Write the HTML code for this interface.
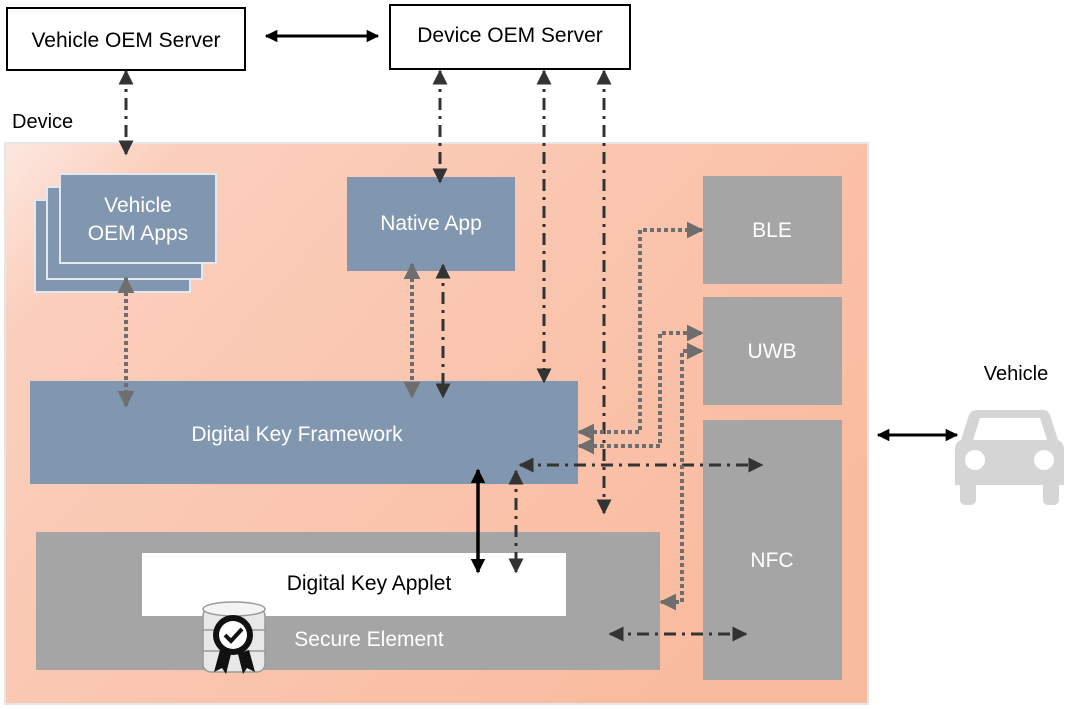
<!DOCTYPE html>
<html><head><meta charset="utf-8"><style>
body{margin:0;background:#fff;}
svg{display:block;font-family:"Liberation Sans",Arial,sans-serif;}
</style></head><body>
<svg width="1080" height="709" viewBox="0 0 1080 709" xmlns="http://www.w3.org/2000/svg">
<defs>
<linearGradient id="bg" x1="0" y1="0" x2="1" y2="0.6">
<stop offset="0" stop-color="#fce8e0"/>
<stop offset="0.15" stop-color="#fbcfbd"/>
<stop offset="1" stop-color="#f9bb9f"/>
</linearGradient>
<marker id="ad" viewBox="0 0 10 10" refX="9" refY="5" markerWidth="5" markerHeight="5" orient="auto-start-reverse" markerUnits="strokeWidth"><path d="M0,0L10,5L0,10z" fill="#333"/></marker>
<marker id="ag" viewBox="0 0 10 10" refX="9" refY="5" markerWidth="4.2" markerHeight="4.2" orient="auto-start-reverse" markerUnits="strokeWidth"><path d="M0,0L10,5L0,10z" fill="#6e6e6e"/></marker>
<marker id="ab" viewBox="0 0 10 10" refX="9" refY="5" markerWidth="4.2" markerHeight="4.2" orient="auto-start-reverse" markerUnits="strokeWidth"><path d="M0,0L10,5L0,10z" fill="#000"/></marker>
</defs>

<rect x="7" y="8" width="238" height="62" fill="#fff" stroke="#000" stroke-width="2"/>
<text x="126" y="47" font-size="21" text-anchor="middle" fill="#000">Vehicle OEM Server</text>
<rect x="390" y="5" width="240" height="64" fill="#fff" stroke="#000" stroke-width="2"/>
<text x="510" y="42" font-size="21" text-anchor="middle" fill="#000">Device OEM Server</text>
<line x1="266" y1="36" x2="378" y2="36" stroke="#000" stroke-width="3" marker-start="url(#ab)" marker-end="url(#ab)"/>
<text x="12" y="128" font-size="20" fill="#000">Device</text>

<rect x="5" y="143" width="863" height="561" fill="url(#bg)" stroke="#e6e6e6" stroke-width="2"/>

<rect x="35" y="200" width="155" height="92" fill="#8197b0" stroke="#e3e8ee" stroke-width="2"/>
<rect x="47" y="187" width="155" height="92" fill="#8197b0" stroke="#e3e8ee" stroke-width="2"/>
<rect x="60" y="174" width="156" height="89" fill="#8197b0" stroke="#e3e8ee" stroke-width="2"/>
<text x="138" y="212" font-size="21" fill="#fff" text-anchor="middle">Vehicle</text>
<text x="138" y="240" font-size="21" fill="#fff" text-anchor="middle">OEM Apps</text>

<rect x="347" y="177" width="168" height="94" fill="#8197b0"/>
<text x="431" y="230" font-size="21" fill="#fff" text-anchor="middle">Native App</text>

<rect x="703" y="176" width="139" height="108" fill="#a5a5a5"/>
<text x="772" y="237" font-size="21" fill="#fff" text-anchor="middle">BLE</text>
<rect x="703" y="297" width="139" height="108" fill="#a5a5a5"/>
<text x="772" y="358" font-size="21" fill="#fff" text-anchor="middle">UWB</text>
<rect x="703" y="420" width="139" height="260" fill="#a5a5a5"/>
<text x="772" y="567" font-size="21" fill="#fff" text-anchor="middle">NFC</text>

<rect x="30" y="381" width="548" height="103" fill="#8197b0"/>
<text x="297" y="441" font-size="21" fill="#fff" text-anchor="middle">Digital Key Framework</text>

<rect x="36" y="532" width="624" height="138" fill="#a5a5a5"/>
<rect x="142" y="553" width="424" height="63" fill="#fff"/>
<text x="369" y="590" font-size="21" fill="#000" text-anchor="middle">Digital Key Applet</text>
<text x="369" y="646" font-size="21" fill="#fff" text-anchor="middle">Secure Element</text>

<g>
<rect x="203" y="608" width="62" height="64" rx="8" fill="#e8e8e8" stroke="#999" stroke-width="1.5"/>
<ellipse cx="234" cy="609" rx="31" ry="7" fill="#f4f4f4" stroke="#999" stroke-width="1.5"/>
<line x1="203" y1="630" x2="265" y2="630" stroke="#999" stroke-width="1.5"/>
<line x1="203" y1="651" x2="265" y2="651" stroke="#999" stroke-width="1.5"/>
<path d="M220,650 L214,672 L222,668 L226,674 L231,654 Z M238,654 L243,674 L247,668 L255,672 L249,650 Z" fill="#111"/>
<circle cx="233" cy="635" r="20" fill="#111"/>
<circle cx="233" cy="635" r="14" fill="#fff"/>
<path d="M225,635 L231,641 L242,629" fill="none" stroke="#111" stroke-width="4"/>
</g>

<g fill="none" stroke="#333" stroke-width="3" stroke-dasharray="12 6 3 6">
<line x1="126" y1="71" x2="126" y2="154" marker-start="url(#ad)" marker-end="url(#ad)"/>
<line x1="440" y1="71" x2="440" y2="182" marker-start="url(#ad)" marker-end="url(#ad)"/>
<line x1="544" y1="71" x2="544" y2="382" marker-start="url(#ad)" marker-end="url(#ad)"/>
<line x1="604" y1="71" x2="604" y2="513" marker-start="url(#ad)" marker-end="url(#ad)"/>
<line x1="443" y1="265" x2="443" y2="397" marker-start="url(#ad)" marker-end="url(#ad)"/>
<line x1="516" y1="471" x2="516" y2="572" marker-start="url(#ad)" marker-end="url(#ad)"/>
<line x1="520" y1="465" x2="762" y2="465" marker-start="url(#ad)" marker-end="url(#ad)"/>
<line x1="610" y1="634" x2="746" y2="634" marker-start="url(#ad)" marker-end="url(#ad)"/>
</g>
<line x1="478" y1="470" x2="478" y2="572" stroke="#000" stroke-width="3.5" marker-start="url(#ab)" marker-end="url(#ab)"/>

<g fill="none" stroke="#6e6e6e" stroke-width="4" stroke-dasharray="4 3">
<line x1="126" y1="278" x2="126" y2="406" marker-start="url(#ag)" marker-end="url(#ag)"/>
<line x1="412" y1="264" x2="412" y2="397" marker-start="url(#ag)" marker-end="url(#ag)"/>
<polyline points="579,432 640,432 640,230 702,230" marker-start="url(#ag)" marker-end="url(#ag)"/>
<polyline points="579,446 660,446 660,333 702,333" marker-start="url(#ag)" marker-end="url(#ag)"/>
<polyline points="661,602 682,602 682,351 702,351" marker-start="url(#ag)" marker-end="url(#ag)"/>
</g>

<text x="1016" y="380" font-size="20" fill="#000" text-anchor="middle">Vehicle</text>
<line x1="878" y1="435" x2="957" y2="435" stroke="#000" stroke-width="3" marker-start="url(#ab)" marker-end="url(#ab)"/>
<g fill="#d5d5d5">
<path d="M977,410 L1043,410 Q1048,410 1050,415 L1058,440 Q1064,442 1064,450 L1064,485 L955,485 L955,450 Q955,442 961,440 L969,415 Q971,410 977,410 Z"/>
<rect x="960" y="480" width="16" height="25" rx="5"/>
<rect x="1043" y="480" width="16" height="25" rx="5"/>
</g>
<path d="M980,418 L1040,418 L1047,440 L973,440 Z" fill="#fff"/>
<circle cx="975" cy="460" r="10" fill="#fff"/>
<circle cx="1044" cy="460" r="10" fill="#fff"/>
</svg>
</body></html>
